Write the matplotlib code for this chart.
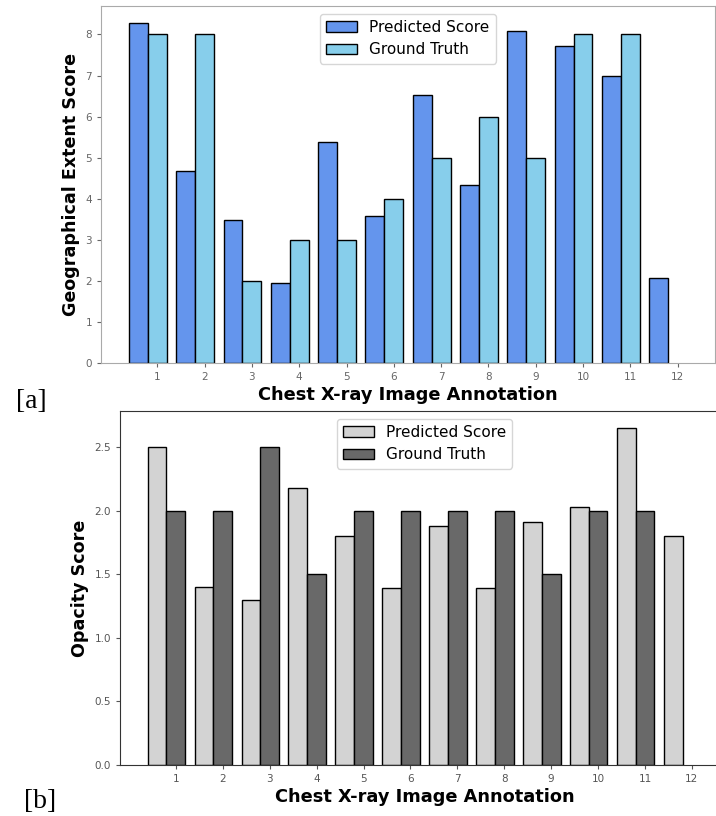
import matplotlib.pyplot as plt
import numpy as np

annotations = [str(i) for i in range(1, 13)]

# panel a: geographical extent
extent_pred = [8.28, 4.67, 3.49, 1.94, 5.39, 3.58, 6.53, 4.34, 8.09, 7.73, 7.0, 2.06]
extent_gt = [8, 8, 2, 3, 3, 4, 5, 6, 5, 8, 8, 0]

# panel b: opacity
opacity_pred = [2.50, 1.40, 1.30, 2.18, 1.80, 1.39, 1.88, 1.39, 1.91, 2.03, 2.65, 1.80]
opacity_gt = [2.0, 2.0, 2.5, 1.5, 2.0, 2.0, 2.0, 2.0, 1.5, 2.0, 2.0, 0]

W, H = 716, 816
fig = plt.figure(figsize=(W / 100, H / 100), dpi=100)


def px_axes(left, top, right, bottom):
    return fig.add_axes([left / W, 1 - bottom / H, (right - left) / W, (bottom - top) / H])


def draw(ax, pred, gt, c_pred, c_gt, ylabel, spine_col, tick_col):
    x = np.arange(1, 13)
    w = 0.4
    ax.bar(x - w, pred, w, color=c_pred, edgecolor='black', linewidth=1.0, label='Predicted Score')
    gt_bars = ax.bar(x, gt, w, color=c_gt, edgecolor='black', linewidth=1.0, label='Ground Truth')
    # missing ground truth (height 0) should not leave an edge line on the axis
    for p in gt_bars:
        if p.get_height() == 0:
            p.set_linewidth(0)
    ax.set_xticks(x)
    ax.set_xticklabels(annotations)
    ax.set_xlabel('Chest X-ray Image Annotation', fontsize=12.8, fontweight='bold', labelpad=3)
    ax.set_ylabel(ylabel, fontsize=12.6, fontweight='bold')
    ax.tick_params(labelsize=7.5, colors=tick_col, length=3)
    for s in ax.spines.values():
        s.set_color(spine_col)
    ax.legend(loc='upper center', fontsize=11)


ax1 = px_axes(101, 6, 715, 363)
draw(ax1, extent_pred, extent_gt, 'cornflowerblue', 'skyblue',
     'Geographical Extent Score', '#aaaaaa', '#666666')
ax1.set_yticks(range(0, 9))

ax2 = px_axes(120, 411, 729, 765)
draw(ax2, opacity_pred, opacity_gt, 'lightgray', 'dimgray',
     'Opacity Score', '#333333', '#555555')

fig.text(31 / W, 1 - 402 / H, '[a]', family='Liberation Serif', fontsize=20, ha='center', va='center')
fig.text(40 / W, 1 - 802 / H, '[b]', family='Liberation Serif', fontsize=20, ha='center', va='center')

fig.savefig('out.png', dpi=100)
